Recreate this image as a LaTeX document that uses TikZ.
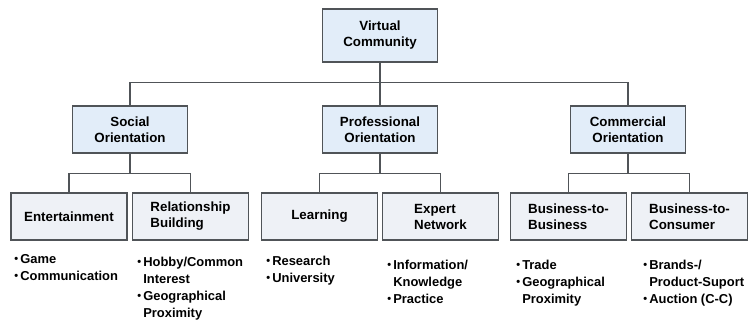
\documentclass[tikz,border=0pt]{standalone}
\usepackage{fontspec}
\setmainfont{Liberation Sans}
\usetikzlibrary{positioning}

\definecolor{toplight}{HTML}{E2EDF9}
\definecolor{leaflight}{HTML}{EEF1F6}
\definecolor{edgegray}{HTML}{505458}

\newcommand{\bul}{\raisebox{0.1ex}{\scalebox{0.85}{\textbullet}}\,}
\newcommand{\hang}{\hphantom{\bul}}

\begin{document}
\begin{tikzpicture}[x=0.75pt,y=-0.75pt,
  font=\bfseries\fontsize{10}{12}\selectfont,
  catbox/.style={draw=edgegray, line width=1.2pt, fill=toplight, align=center,
    minimum width=86.25pt, minimum height=35pt, inner sep=2pt},
  leafbox/.style={draw=edgegray, line width=1.2pt, fill=leaflight, align=left,
    minimum width=87pt, minimum height=35pt, inner sep=2pt},
  items/.style={align=left, anchor=north west, inner sep=0pt,
    font=\bfseries\fontsize{9.7}{12.7}\selectfont},
  link/.style={draw=edgegray, line width=1pt}]

\useasboundingbox (0,0) rectangle (750,324);

% Root and the three orientations
\node[catbox, minimum height=40pt] (vc) at (380,35.5) {Virtual\\Community};
\node[catbox] (soc) at (130,129.5) {Social\\Orientation};
\node[catbox] (pro) at (380,129.5) {Professional\\Orientation};
\node[catbox] (com) at (628,129.5) {Commercial\\Orientation};

% Leaves
\node[leafbox] (ent) at (69,216.5) {Entertainment};
\node[leafbox] (rel) at (190.5,216.5) {Relationship\\Building};
\node[leafbox] (lea) at (319.5,216.5) {Learning};
\node[leafbox] (exp) at (440.5,216.5) {Expert\\Network};
\node[leafbox] (btb) at (568.5,216.5) {Business-to-\\Business};
\node[leafbox] (btc) at (689.5,216.5) {Business-to-\\Consumer};

% Connectors
\draw[link] (vc.south) -- ++(0,19.5) coordinate (vcj);
\draw[link] (vcj) -| (soc.north);
\draw[link] (vcj) -| (com.north);
\draw[link] (vcj) -- (pro.north);
\foreach \p/\a/\b in {soc/ent/rel, pro/lea/exp, com/btb/btc} {
  \draw[link] (\p.south) -- ++(0,20) coordinate (\p j);
  \draw[link] (\p j) -| (\a.north);
  \draw[link] (\p j) -| (\b.north);
}

% Item lists
\node[items] (entl) at (14,254) {\bul Game\\\bul Communication};
\node[items] (rell) at (137,257) {\bul Hobby/Common\\\hang Interest\\\bul Geographical\\\hang Proximity};
\node[items] (leal) at (266,256) {\bul Research\\\bul University};
\node[items] (expl) at (387,260) {\bul Information/\\\hang Knowledge\\\bul Practice};
\node[items] (btbl) at (516,260) {\bul Trade\\\bul Geographical\\\hang Proximity};
\node[items] (btcl) at (643,260) {\bul Brands-/\\\hang Product-Suport\\\bul Auction (C-C)};

\end{tikzpicture}
\end{document}
